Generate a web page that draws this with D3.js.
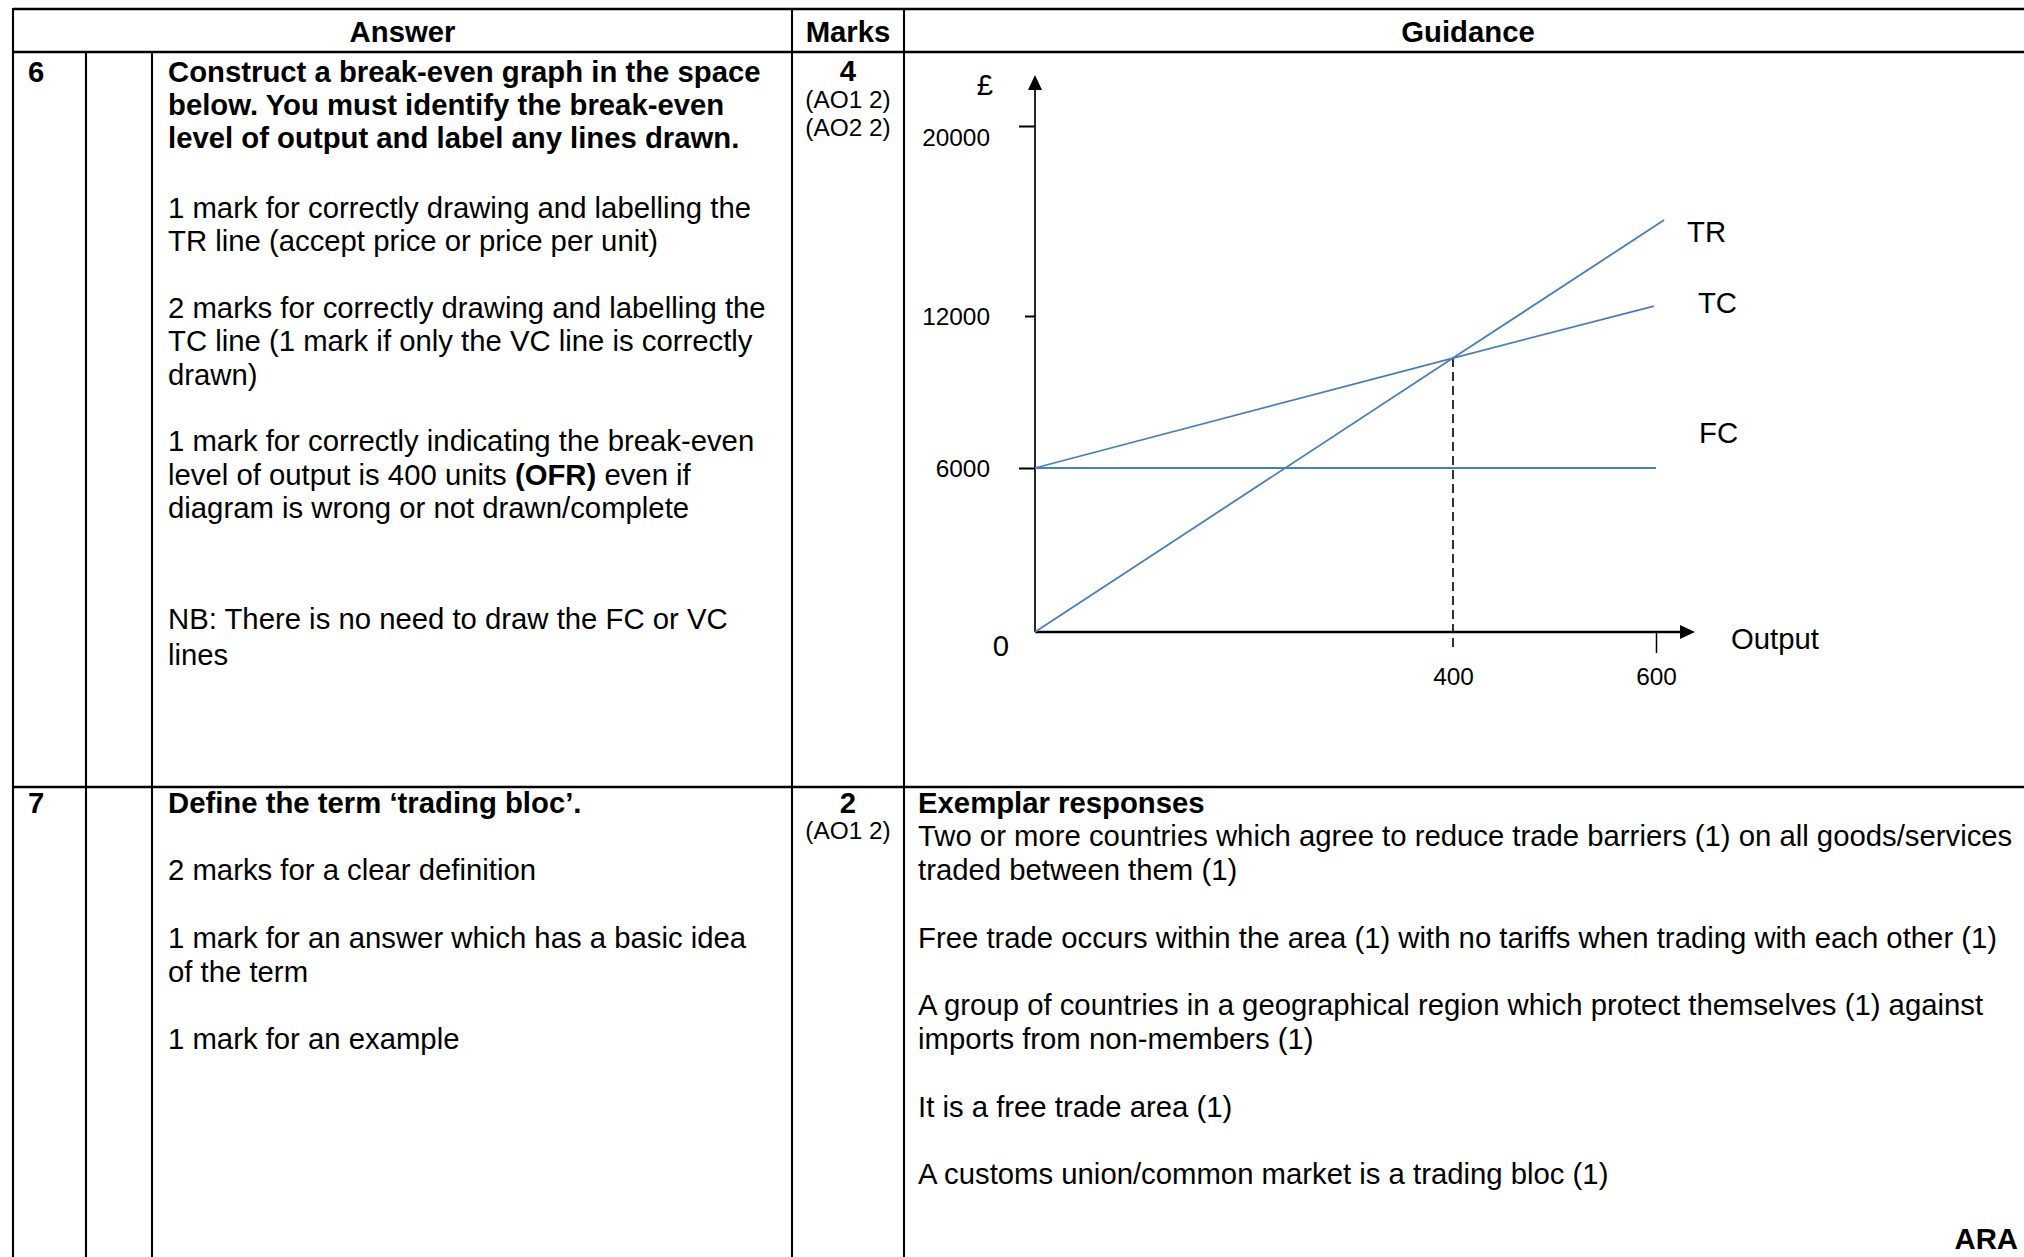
<!DOCTYPE html>
<html>
<head>
<meta charset="utf-8">
<script src="https://cdnjs.cloudflare.com/ajax/libs/d3/7.8.5/d3.min.js"></script>
<style>
body{margin:0;background:#fff;overflow:hidden;}
svg text{font-family:"Liberation Sans",Arial,sans-serif;fill:#000;}
</style>
</head>
<body>
<svg id="page" width="2024" height="1257"></svg>
<script>
// values (the drawing is not to scale)
const moneyTicks = [0, 6000, 12000, 20000];
const moneyLabels = ["0", "6000", "12000", "20000"];
const outputTicks = [0, 400, 600];
const outputLabels = ["0", "400", "600"];
const lineNames = ["TR", "TC", "FC"];
const trOutput = [0, 400, 608];
const trValues = [0, 10340, 16040];
const tcOutput = [0, 400, 598];
const tcValues = [6000, 10340, 12420];
const fcOutput = [0, 600];
const fcValues = [6000, 6000];
const breakEven = [400, 10340];

// table text
const headers = ["Answer", "Marks", "Guidance"];
const q6Question = [
    {t: "Construct a break-even graph in the space", b: true},
    {t: "below. You must identify the break-even", b: true},
    {t: "level of output and label any lines drawn.", b: true}
];
const q6Answer = [
    {t: "1 mark for correctly drawing and labelling the"},
    {t: "TR line (accept price or price per unit)"},
    null,
    {t: "2 marks for correctly drawing and labelling the"},
    {t: "TC line (1 mark if only the VC line is correctly"},
    {t: "drawn)"},
    null,
    {t: "1 mark for correctly indicating the break-even"},
    {parts: [["level of output is 400 units ", false], ["(OFR)", true], [" even if", false]]},
    {t: "diagram is wrong or not drawn/complete"},
    null,
    null,
    {t: "NB: There is no need to draw the FC or VC", off: 11},
    {t: "lines", off: 13}
];
const q7Answer = [
    {t: "Define the term \u2018trading bloc\u2019.", b: true},
    null,
    {t: "2 marks for a clear definition"},
    null,
    {t: "1 mark for an answer which has a basic idea"},
    {t: "of the term"},
    null,
    {t: "1 mark for an example"}
];
const q7Guidance = [
    {t: "Exemplar responses", b: true},
    {t: "Two or more countries which agree to reduce trade barriers (1) on all goods/services"},
    {t: "traded between them (1)"},
    null,
    {t: "Free trade occurs within the area (1) with no tariffs when trading with each other (1)"},
    null,
    {t: "A group of countries in a geographical region which protect themselves (1) against"},
    {t: "imports from non-members (1)"},
    null,
    {t: "It is a free trade area (1)"},
    null,
    {t: "A customs union/common market is a trading bloc (1)"}
];

var svg = d3.select("#page");
var FS = 29.3, SMALL = 24.4;
var colX = [13, 86, 152, 792, 904, 2032];
var rowY = [9, 52, 787, 1260];

// grid
var grid = svg.append("g").attr("stroke", "#000");
[rowY[0], rowY[1], rowY[2]].forEach(function(yy){
    grid.append("line").attr("x1", colX[0]).attr("x2", colX[5]).attr("y1", yy).attr("y2", yy).attr("stroke-width", 2.5);
});
colX.forEach(function(xx, i){
    if(i === 5) return;
    var top = (i === 1 || i === 2) ? rowY[1] : rowY[0];
    grid.append("line").attr("x1", xx).attr("x2", xx).attr("y1", top - 1).attr("y2", rowY[3]).attr("stroke-width", 2.1);
});

// headers
var hx = [(colX[0] + colX[3]) / 2, (colX[3] + colX[4]) / 2, (colX[4] + colX[5]) / 2];
headers.forEach(function(h, i){
    svg.append("text").attr("x", hx[i]).attr("y", 41.5).attr("text-anchor", "middle")
        .attr("font-size", FS).attr("font-weight", "bold").text(h);
});

function writeLines(lines, x0, c0, lh){
    lines.forEach(function(l, i){
        if(!l) return;
        var t = svg.append("text").attr("x", x0).attr("y", c0 + i * lh + 10.5 + (l.off || 0)).attr("font-size", FS);
        if(l.parts){
            l.parts.forEach(function(p){
                t.append("tspan").attr("font-weight", p[1] ? "bold" : "normal").text(p[0]);
            });
        }else{
            t.attr("font-weight", l.b ? "bold" : "normal").text(l.t);
        }
    });
}

// question numbers and marks
svg.append("text").attr("x", 28).attr("y", 82).attr("font-size", FS).attr("font-weight", "bold").text("6");
svg.append("text").attr("x", 28).attr("y", 812.5).attr("font-size", FS).attr("font-weight", "bold").text("7");
writeLines(q6Question, 168, 71, 33);
writeLines(q6Answer, 168, 207, 33.4);
writeLines(q7Answer, 168, 802, 33.8);
writeLines(q7Guidance, 918, 802, 33.8);
svg.append("text").attr("x", 2018).attr("y", 1249).attr("text-anchor", "end")
    .attr("font-size", FS).attr("font-weight", "bold").text("ARA");

var mx = hx[1];
svg.append("text").attr("x", mx).attr("y", 81).attr("text-anchor", "middle").attr("font-size", FS).attr("font-weight", "bold").text("4");
svg.append("text").attr("x", mx).attr("y", 107.5).attr("text-anchor", "middle").attr("font-size", SMALL).text("(AO1 2)");
svg.append("text").attr("x", mx).attr("y", 136).attr("text-anchor", "middle").attr("font-size", SMALL).text("(AO2 2)");
svg.append("text").attr("x", mx).attr("y", 812.5).attr("text-anchor", "middle").attr("font-size", FS).attr("font-weight", "bold").text("2");
svg.append("text").attr("x", mx).attr("y", 839).attr("text-anchor", "middle").attr("font-size", SMALL).text("(AO1 2)");

// break-even graph
var y = d3.scaleLinear().domain(moneyTicks).range([632, 468, 316, 126]);
var x = d3.scaleLinear().domain(outputTicks).range([1035, 1453, 1656]);
var chart = svg.append("g");

var yAxis = d3.axisLeft(y).tickValues(moneyTicks.slice(1)).tickFormat(function(d){
    return moneyLabels[moneyTicks.indexOf(d)];
}).tickSize(16).tickPadding(29).tickSizeOuter(0);
var ya = chart.append("g").attr("transform", "translate(" + x(0) + ",0)").call(yAxis);
ya.select(".domain").remove();
ya.selectAll(".tick line").attr("stroke", "#000").attr("stroke-width", 2)
    .attr("x2", function(d){ return d === 12000 ? -10 : -16; });
ya.selectAll(".tick text").attr("font-size", SMALL).attr("font-family", null).attr("fill", "#000")
    .attr("dy", function(d){ return d === 20000 ? "0.8em" : "0.35em"; });

var xAxis = d3.axisBottom(x).tickValues(outputTicks.slice(1)).tickFormat(function(d){
    return outputLabels[outputTicks.indexOf(d)];
}).tickSize(21).tickPadding(15).tickSizeOuter(0);
var xa = chart.append("g").attr("transform", "translate(0," + y(0) + ")").call(xAxis);
xa.select(".domain").remove();
xa.selectAll(".tick line").attr("stroke", "#000").attr("stroke-width", 1.5)
    .attr("display", function(d){ return d === breakEven[0] ? "none" : null; });
xa.selectAll(".tick text").attr("font-size", SMALL).attr("font-family", null).attr("fill", "#000");

// axis lines with arrow heads
var yTop = y(20000) - 51, xEnd = x(600) + 39;
chart.append("line").attr("x1", x(0)).attr("x2", x(0)).attr("y1", y(0)).attr("y2", yTop + 10)
    .attr("stroke", "#000").attr("stroke-width", 1.7);
chart.append("path").attr("d", "M" + x(0) + "," + yTop + "l-7,15h14z").attr("fill", "#000");
chart.append("line").attr("x1", x(0)).attr("x2", xEnd - 10).attr("y1", y(0)).attr("y2", y(0))
    .attr("stroke", "#000").attr("stroke-width", 2.3);
chart.append("path").attr("d", "M" + xEnd + "," + y(0) + "l-15,-7v14z").attr("fill", "#000");

chart.append("text").attr("x", 985).attr("y", 95).attr("text-anchor", "middle").attr("font-size", FS).text("\u00a3");
chart.append("text").attr("x", 1001).attr("y", 656).attr("text-anchor", "middle").attr("font-size", FS).text(moneyLabels[0]);
chart.append("text").attr("x", xEnd + 36).attr("y", 649).attr("font-size", FS).text("Output");

// dashed drop line at break-even output
chart.append("line").attr("x1", x(breakEven[0])).attr("x2", x(breakEven[0]))
    .attr("y1", y(breakEven[1])).attr("y2", y(0) + 20)
    .attr("stroke", "#000").attr("stroke-width", 1.6).attr("stroke-dasharray", "9,5");

var line = d3.line().x(function(d){ return x(d[0]); }).y(function(d){ return y(d[1]); });
var series = [
    {name: lineNames[0], pts: d3.zip(trOutput, trValues), dx: 23, dy: 22},
    {name: lineNames[1], pts: d3.zip(tcOutput, tcValues), dx: 44, dy: 7},
    {name: lineNames[2], pts: d3.zip(fcOutput, fcValues), dx: 43, dy: -25}
];
series.forEach(function(s){
    chart.append("path").attr("d", line(s.pts)).attr("fill", "none")
        .attr("stroke", "#4A7EBB").attr("stroke-width", 1.8);
    var last = s.pts[s.pts.length - 1];
    chart.append("text").attr("x", x(last[0]) + s.dx).attr("y", y(last[1]) + s.dy)
        .attr("font-size", FS).text(s.name);
});
</script>
</body>
</html>
